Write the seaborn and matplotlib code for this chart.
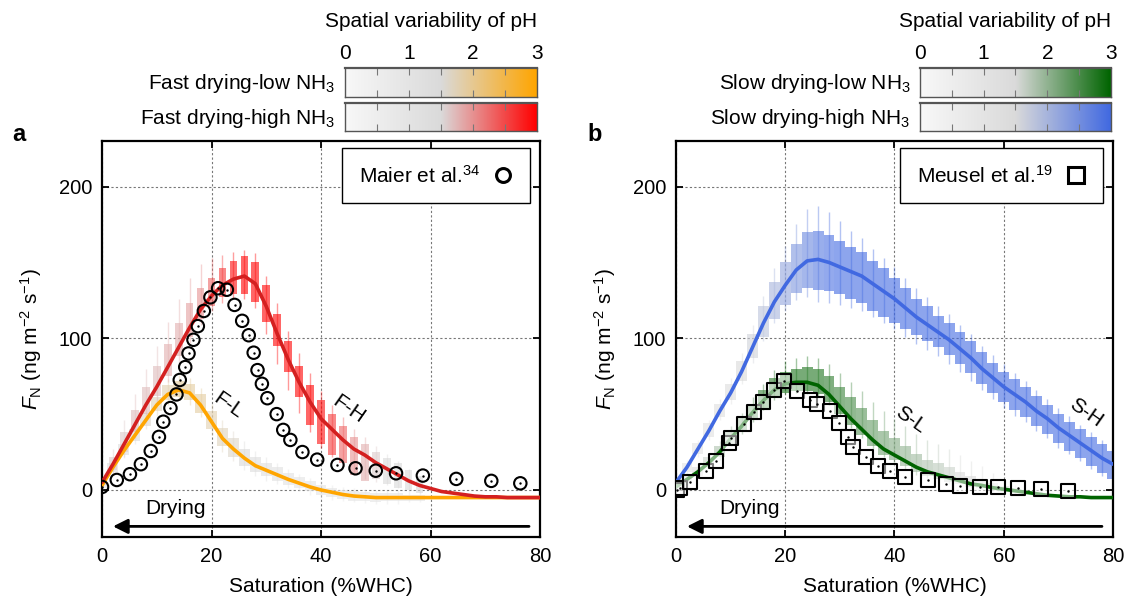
# %%
import numpy as np
import matplotlib
matplotlib.use("Agg")
import matplotlib.pyplot as plt
import seaborn as sns
from matplotlib.colors import LinearSegmentedColormap
from matplotlib.lines import Line2D

sns.set_style("ticks")
plt.rcParams["font.family"] = ["Liberation Sans", "DejaVu Sans"]
plt.rcParams["mathtext.fontset"] = "custom"
plt.rcParams["mathtext.rm"] = "Liberation Sans"
plt.rcParams["mathtext.it"] = "Liberation Sans:italic"
plt.rcParams["mathtext.bf"] = "Liberation Sans:bold"
for k in ["text.color", "axes.labelcolor", "xtick.color", "ytick.color"]:
    plt.rcParams[k] = "black"

# %% model output, every 2 %WHC
sat = list(range(0, 81, 2))

# fast drying - high NH3
fh_line = [5, 17, 30, 43, 56, 68, 81, 94, 107, 119, 128, 135, 139, 141, 136, 121, 103, 86, 71, 58, 47,
           40, 33, 27, 23, 18, 14, 10, 6, 3, 1, -1, -2, -3, -4, -4.5, -4.5, -5, -5, -5, -5]
fh_wh_up = [4, 10, 16, 20, 24, 27, 30, 32, 33, 30, 25, 20, 18, 17, 20, 20, 20, 19, 19, 19, 18,
            16, 15, 13, 12, 11, 10, 9, 8, 6, 0, 0, 0, 0, 0, 0, 0, 0, 0, 0, 0]
fh_wh_dn = [4, 7, 8, 9, 10, 10, 10, 10, 10, 10, 10, 12, 13, 15, 16, 18, 20, 20, 20, 20, 19,
            18, 17, 17, 16, 13, 11, 9, 7, 5, 0, 0, 0, 0, 0, 0, 0, 0, 0, 0, 0]
fh_box_up = [2, 5, 8, 10, 12, 14, 15, 16, 16, 14, 12, 11, 12, 13, 14, 14, 13, 12, 11, 11, 12,
             10, 9, 8, 7, 7, 7, 8, 7, 6, 0, 0, 0, 0, 0, 0, 0, 0, 0, 0, 0]
fh_box_dn = [2, 4, 5, 5, 6, 6, 6, 6, 6, 6, 7, 8, 10, 12, 12, 10, 8, 8, 10, 15, 17,
             17, 15, 17, 17, 11, 10, 9, 6, 5, 0, 0, 0, 0, 0, 0, 0, 0, 0, 0, 0]
fh_var = [1.5, 1.6, 1.6, 1.7, 1.7, 1.7, 1.8, 1.8, 1.9, 2.0, 2.3, 2.6, 2.9, 3, 3, 3, 3, 3, 3, 3, 2.9,
          2.6, 2.3, 2.0, 1.8, 1.6, 1.5, 1.5, 1.5, 1.5, 1.5, 1.5, 1.5, 1.5, 1.5, 1.5, 1.5, 1.5, 1.5, 1.5, 1.5]

# fast drying - low NH3
fl_line = [3, 15, 26, 36, 46, 56, 63, 66, 64, 56, 45, 34, 27, 21, 16, 13, 10, 7, 4.5, 2, 0,
           -1.5, -3, -4, -4.5, -5, -5, -5, -5, -5, -5, -5, -5, -5, -5, -5, -5, -5, -5, -5, -5]
fl_wh_up = [3, 5, 6, 7, 8, 9, 10, 10, 10, 11, 12, 12, 12, 11, 10, 9, 8, 7, 6, 6, 6,
            5, 5, 5, 5, 5, 5, 5, 4, 4, 0, 0, 0, 0, 0, 0, 0, 0, 0, 0, 0]
fl_wh_dn = [3, 4, 5, 6, 6, 7, 7, 7, 8, 8, 9, 9, 8, 8, 7, 7, 6, 6, 5, 5, 5,
            5, 4, 4, 4, 4, 4, 4, 3, 3, 0, 0, 0, 0, 0, 0, 0, 0, 0, 0, 0]
fl_box_up = [2, 3, 4, 4, 5, 5, 6, 6, 6, 7, 7, 7, 7, 6, 6, 5, 5, 4, 4, 4, 3,
             3, 3, 3, 3, 3, 3, 3, 2, 2, 0, 0, 0, 0, 0, 0, 0, 0, 0, 0, 0]
fl_box_dn = [2, 3, 3, 4, 4, 4, 4, 5, 5, 5, 5, 5, 5, 5, 4, 4, 4, 4, 3, 3, 3,
             3, 3, 3, 3, 3, 2, 2, 2, 2, 0, 0, 0, 0, 0, 0, 0, 0, 0, 0, 0]
fl_var = [1.2, 1.3, 1.4, 1.5, 1.6, 1.7, 1.8, 1.9, 1.9, 1.9, 1.8, 1.7, 1.6, 1.5, 1.4, 1.3, 1.2, 1.1, 1.0, 1.0, 1.0,
          1.0, 1.0, 1.0, 1.0, 1.0, 1.0, 1.0, 1.0, 1.0, 1.0, 1.0, 1.0, 1.0, 1.0, 1.0, 1.0, 1.0, 1.0, 1.0, 1.0]

# slow drying - high NH3
sh_line = [5, 15, 27, 39, 52, 64, 78, 94, 110, 124, 135, 145, 151, 152, 150, 147, 144, 141, 136, 131, 126,
           120, 114, 109, 104, 99, 93, 87, 80, 74, 68, 63, 58, 52, 47, 41, 36, 31, 26, 21, 17]
sh_wh_up = [3, 5, 6, 7, 8, 10, 12, 15, 18, 22, 26, 30, 34, 35, 33, 30, 27, 25, 23, 22, 21,
            20, 19, 18, 17, 17, 16, 16, 15, 15, 15, 14, 14, 14, 13, 13, 13, 12, 12, 12, 12]
sh_wh_dn = [3, 4, 5, 6, 6, 7, 8, 10, 12, 14, 17, 20, 24, 28, 27, 25, 24, 23, 22, 21, 20,
            19, 18, 17, 16, 16, 15, 15, 14, 14, 14, 14, 13, 13, 13, 13, 12, 12, 12, 12, 12]
sh_box_up = [2, 3, 4, 5, 5, 6, 7, 9, 11, 13, 15, 17, 19, 19, 18, 17, 16, 16, 15, 15, 14,
             13, 12, 12, 11, 11, 11, 11, 11, 10, 10, 10, 10, 10, 9, 9, 9, 9, 9, 9, 9]
sh_box_dn = [2, 3, 3, 4, 4, 5, 6, 7, 9, 11, 13, 15, 18, 20, 19, 18, 18, 18, 18, 17, 16,
             14, 12, 11, 10, 10, 10, 10, 10, 10, 10, 10, 10, 10, 10, 10, 10, 10, 10, 10, 10]
sh_var = [1.0, 1.0, 1.1, 1.2, 1.3, 1.4, 1.5, 1.6, 1.8, 2.0, 2.2, 2.4, 2.6, 2.8, 2.9, 3, 3, 3, 3, 3, 3,
          3, 3, 3, 3, 3, 3, 3, 3, 3, 3, 3, 3, 3, 3, 3, 3, 3, 3, 3, 3]

# slow drying - low NH3
sl_line = [2, 7, 12, 18, 25, 34, 42, 51, 59, 66, 70, 71, 71, 69, 63, 55, 47, 40, 33, 27, 23,
           19, 15, 12, 10, 8, 6, 4, 3, 1.5, 0.5, -0.5, -1.5, -2.5, -3.5, -4, -4.5, -4.5, -5, -5, -5]
sl_wh_up = [3, 4, 5, 6, 7, 8, 9, 10, 11, 13, 15, 16, 17, 18, 20, 22, 24, 25, 25, 25, 24,
            23, 22, 21, 20, 19, 17, 15, 13, 10, 7, 4, 0, 0, 0, 0, 0, 0, 0, 0, 0]
sl_wh_dn = [3, 3, 4, 4, 5, 5, 5, 6, 6, 7, 7, 7, 8, 8, 7, 6, 6, 6, 6, 5, 5,
            5, 5, 4, 4, 4, 4, 3, 3, 3, 3, 2, 0, 0, 0, 0, 0, 0, 0, 0, 0]
sl_box_up = [2, 3, 3, 4, 4, 5, 6, 6, 7, 8, 8, 9, 10, 11, 12, 13, 14, 14, 13, 12, 11,
             10, 9, 8, 8, 7, 6, 5, 4, 3, 2, 2, 0, 0, 0, 0, 0, 0, 0, 0, 0]
sl_box_dn = [2, 2, 3, 3, 3, 4, 4, 4, 5, 5, 6, 6, 6, 6, 5, 5, 4, 4, 4, 4, 3,
             3, 3, 3, 3, 3, 2, 2, 2, 2, 2, 1, 0, 0, 0, 0, 0, 0, 0, 0, 0]
sl_var = [1.2, 1.3, 1.4, 1.6, 1.8, 2.0, 2.2, 2.4, 2.6, 2.7, 2.8, 2.8, 2.8, 2.8, 2.7, 2.6, 2.5, 2.4, 2.3, 2.2, 2.1,
          2.0, 1.9, 1.8, 1.7, 1.6, 1.5, 1.5, 1.4, 1.4, 1.3, 1.3, 1.3, 1.3, 1.3, 1.3, 1.3, 1.3, 1.3, 1.3, 1.3]

# measurements
maier_x = [0, 2.7, 5.1, 7.1, 8.9, 10.4, 11.2, 12.5, 13.6, 14.2, 15.2, 15.8, 16.7, 17.5, 18.6, 19.8, 21.2,
           22.8, 24.2, 25.6, 26.8, 27.7, 28.4, 29.2, 30.2, 31.9, 33.1, 34.4, 36.6, 39.3, 43.0, 46.3,
           50.0, 53.7, 58.6, 64.7, 71.1, 76.4]
maier_y = [2, 6.6, 10.4, 17, 25.7, 35, 45, 54, 63, 72.5, 81, 90, 99, 108, 118, 127, 133,
           132, 122, 111.5, 102, 90.5, 79, 70, 60.5, 50, 39.6, 33, 25, 20, 16.5, 14.3,
           12.7, 11, 9.5, 7.3, 6, 4.4]
meusel_x = [0.2, 0.8, 2.5, 5.5, 7.3, 9.7, 10.1, 12.4, 14.2, 16.0, 17.9, 19.8, 22.1, 24.5, 25.8, 28.1,
            29.9, 31.5, 32.4, 34.8, 37.0, 39.2, 41.9, 46.1, 49.4, 52.0, 55.7, 59.0, 62.6, 66.8, 71.8]
meusel_y = [0, 1.5, 5.2, 12.3, 18.8, 31, 34.5, 43.2, 51.3, 58, 66.2, 72, 65.5, 59, 57, 52,
            44, 35, 28.6, 22, 15.8, 12.5, 8.6, 6.4, 4, 2.4, 2, 2.2, 1.1, 0.5, -0.4]

FS = 15


def make_cmap(c):
    return LinearSegmentedColormap.from_list("v", [(0, "#f8f8f8"), (0.5, "#dadada"), (1, c)])


def draw_bars(ax, line, box_dn, box_up, wh_dn, wh_up, var, cmap, width):
    x = np.array(sat, float)
    line = np.array(line, float)
    keep = (np.array(wh_up) + np.array(wh_dn)) > 0
    cols = cmap(np.array(var) / 3.0)
    wcol = cols.copy(); wcol[:, 3] = 0.4
    bcol = cols.copy(); bcol[:, 3] = 0.6
    ax.vlines(x[keep], (line - wh_dn)[keep], (line + wh_up)[keep], colors=wcol[keep], lw=1.0, zorder=1)
    ax.bar(x[keep], (np.array(box_up) + np.array(box_dn))[keep], bottom=(line - box_dn)[keep],
           width=width, color=bcol[keep], lw=0, zorder=1)


def style_axes(ax):
    ax.set_xlim(0, 80)
    ax.set_ylim(-31, 230)
    ax.set_xticks([0, 20, 40, 60, 80])
    ax.set_yticks([0, 100, 200])
    ax.grid(True, ls=(0, (2, 2)), color="#777777", lw=0.8)
    ax.tick_params(direction="in", length=5, width=1.3, top=True, right=True, labelsize=14.5, pad=7)
    for s in ax.spines.values():
        s.set_linewidth(1.6)
        s.set_color("black")
    ax.set_xlabel("Saturation (%WHC)", fontsize=FS, labelpad=8)
    ax.set_ylabel(r"$F_{\mathrm{N}}$ (ng m$^{-2}$ s$^{-1}$)", fontsize=FS)
    ax.yaxis.set_label_coords(-0.132, 0.5)
    ax.annotate("", xy=(1.5, -24), xytext=(78.5, -24),
                arrowprops=dict(arrowstyle="-|>", color="black", lw=2, mutation_scale=22))
    ax.text(13.5, -12.5, "Drying", ha="center", va="center", fontsize=FS)


def colorbar(fig, rect, c, label, ticks):
    cax = fig.add_axes(rect)
    grad = np.linspace(0, 3, 256).reshape(1, -1)
    cax.imshow(grad, aspect="auto", cmap=make_cmap(c), extent=[0, 3, 0, 1], vmin=0, vmax=3)
    cax.set_xlim(0, 3); cax.set_ylim(0, 1)
    cax.set_yticks([])
    cax.set_xticks([0.5, 1, 1.5, 2, 2.5])
    cax.tick_params(axis="x", direction="in", length=5, width=0.8, color="#777777",
                    top=True, bottom=True, labelbottom=False, labeltop=False)
    for s in cax.spines.values():
        s.set_color("#555555"); s.set_linewidth(1.0)
    cax.spines["top"].set_linewidth(1.6)
    cax.text(-0.05, 0.45, label, transform=cax.transAxes, ha="right", va="center", fontsize=FS)
    if ticks:
        for v in range(4):
            cax.text(v, 1.5, str(v), ha="center", va="center", fontsize=FS)
        cax.text(1.0, 2.6, "Spatial variability of pH", transform=cax.transAxes,
                 ha="right", va="center", fontsize=FS)


fig = plt.figure(figsize=(11.26, 5.99), dpi=100)
ax1 = fig.add_axes([0.0906, 0.1035, 0.389, 0.661])
ax2 = fig.add_axes([0.6004, 0.1035, 0.388, 0.661])

# %% panel a
draw_bars(ax1, fl_line, fl_box_dn, fl_box_up, fl_wh_dn, fl_wh_up, fl_var, make_cmap("orange"), 2.0)
draw_bars(ax1, fh_line, fh_box_dn, fh_box_up, fh_wh_dn, fh_wh_up, fh_var, make_cmap("red"), 1.4)
sns.lineplot(x=sat, y=fl_line, ax=ax1, color="orange", lw=2.6, zorder=3)
sns.lineplot(x=sat, y=fh_line, ax=ax1, color="#d42020", lw=2.6, zorder=3)
sns.scatterplot(x=maier_x, y=maier_y, ax=ax1, marker="o", s=80, facecolors="none",
                edgecolor="black", linewidth=1.5, zorder=4)
sns.scatterplot(x=maier_x, y=maier_y, ax=ax1, marker="o", s=3, color="black", linewidth=0, zorder=4)
ax1.text(23, 56, "F-L", rotation=-35, ha="center", va="center", fontsize=FS)
ax1.text(45, 53, "F-H", rotation=-35, ha="center", va="center", fontsize=FS)
style_axes(ax1)
h1 = Line2D([], [], ls="", marker="o", mfc="none", mec="black", ms=10, mew=2.2)
ax1.legend([h1], [r"Maier et al.$^{34}$"], loc="upper right", bbox_to_anchor=(0.977, 0.982),
           borderaxespad=0, markerfirst=False, fontsize=FS, frameon=True, fancybox=False,
           framealpha=1, edgecolor="black", borderpad=0.8, handletextpad=0.6, handlelength=1.0)

# %% panel b
draw_bars(ax2, sh_line, sh_box_dn, sh_box_up, sh_wh_dn, sh_wh_up, sh_var, make_cmap("royalblue"), 2.0)
draw_bars(ax2, sl_line, sl_box_dn, sl_box_up, sl_wh_dn, sl_wh_up, sl_var, make_cmap("darkgreen"), 2.0)
sns.lineplot(x=sat, y=sh_line, ax=ax2, color="royalblue", lw=2.6, zorder=3)
sns.lineplot(x=sat, y=sl_line, ax=ax2, color="darkgreen", lw=2.6, zorder=3)
sns.scatterplot(x=meusel_x, y=meusel_y, ax=ax2, marker="s", s=105, facecolors=(1, 1, 1, 0.5),
                edgecolor="black", linewidth=1.5, zorder=4)
sns.scatterplot(x=meusel_x, y=meusel_y, ax=ax2, marker="o", s=3, color="black", linewidth=0, zorder=4)
ax2.text(43, 46, "S-L", rotation=-35, ha="center", va="center", fontsize=FS)
ax2.text(75, 51, "S-H", rotation=-35, ha="center", va="center", fontsize=FS)
style_axes(ax2)
h2 = Line2D([], [], ls="", marker="s", mfc="none", mec="black", ms=11, mew=2.2)
ax2.legend([h2], [r"Meusel et al.$^{19}$"], loc="upper right", bbox_to_anchor=(0.977, 0.982),
           borderaxespad=0, markerfirst=False, fontsize=FS, frameon=True, fancybox=False,
           framealpha=1, edgecolor="black", borderpad=0.8, handletextpad=0.6, handlelength=1.0)

# %% colorbars
colorbar(fig, [0.3064, 0.838, 0.1705, 0.0484], "orange", r"Fast drying-low NH$_3$", True)
colorbar(fig, [0.3064, 0.7813, 0.1705, 0.0467], "red", r"Fast drying-high NH$_3$", False)
colorbar(fig, [0.817, 0.838, 0.1696, 0.0484], "darkgreen", r"Slow drying-low NH$_3$", True)
colorbar(fig, [0.817, 0.7813, 0.1696, 0.0467], "royalblue", r"Slow drying-high NH$_3$", False)

fig.text(0.011, 0.765, "a", fontsize=17, fontweight="bold")
fig.text(0.522, 0.765, "b", fontsize=17, fontweight="bold")

fig.savefig("out.png", dpi=100)
